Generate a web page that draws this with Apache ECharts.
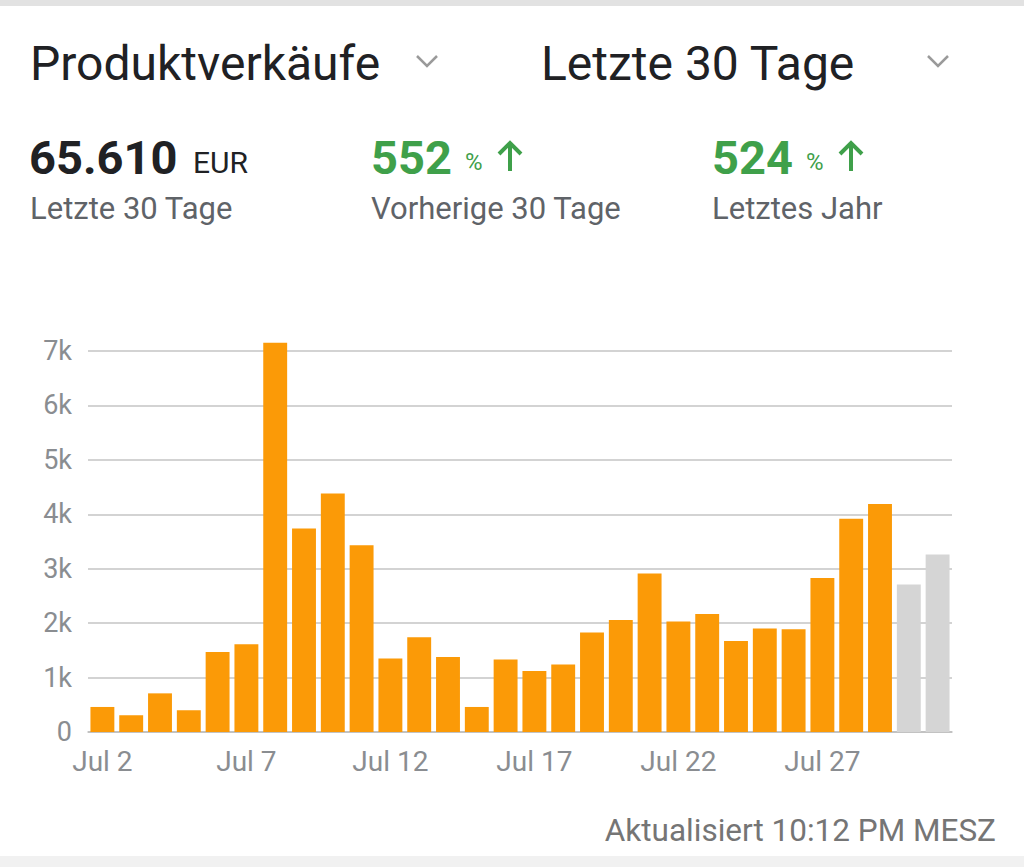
<!DOCTYPE html>
<html lang="de">
<head>
    <meta charset="UTF-8">
    <title>Produktverkäufe</title>
    <script src="https://cdn.jsdelivr.net/npm/echarts@6/dist/echarts.min.js"></script>
    <style>
        html, body { margin: 0; padding: 0; background: #fff; }
        #main { width: 1024px; height: 867px; }
    </style>
</head>
<body>
<div id="main"></div>
<script type="text/javascript">
    // Tage (Kategorien) und Umsatz je Tag in EUR
    var days = ['Jul 2', 'Jul 3', 'Jul 4', 'Jul 5', 'Jul 6', 'Jul 7', 'Jul 8', 'Jul 9', 'Jul 10', 'Jul 11',
        'Jul 12', 'Jul 13', 'Jul 14', 'Jul 15', 'Jul 16', 'Jul 17', 'Jul 18', 'Jul 19', 'Jul 20', 'Jul 21',
        'Jul 22', 'Jul 23', 'Jul 24', 'Jul 25', 'Jul 26', 'Jul 27', 'Jul 28', 'Jul 29', 'Jul 30', 'Jul 31'];
    var sales = [460, 310, 710, 400, 1470, 1610, 7150, 3740, 4380, 3430,
        1350, 1740, 1380, 460, 1330, 1120, 1240, 1830, 2060, 2910,
        2030, 2170, 1670, 1900, 1890, 2830, 3920, 4190, 2710, 3260];
    // die letzten Tage sind noch nicht abgeschlossen (grau)
    var pendingDays = ['Jul 30', 'Jul 31'];
    var yTicks = [0, 1000, 2000, 3000, 4000, 5000, 6000, 7000];

    var orange = '#fb9a07';
    var grey = '#d5d5d5';
    var green = '#3fa04a';
    var font = 'Roboto, "Noto Sans", sans-serif';

    var myChart = echarts.init(document.getElementById('main'), null, {renderer: 'svg'});

    function txt(x, y, text, size, color, weight, align) {
        return {
            type: 'text', x: x, y: y, silent: true,
            style: {
                text: text, fill: color, align: align || 'left', verticalAlign: 'middle',
                font: (weight || 'normal') + ' ' + size + 'px ' + font
            }
        };
    }

    function chevron(x, y) {
        return {
            type: 'polyline', silent: true,
            shape: {points: [[x - 10, y - 5], [x, y + 5], [x + 10, y - 5]]},
            style: {stroke: '#9a9a9a', lineWidth: 2.5, fill: null}
        };
    }

    // dicker Pfeil nach oben wie im Material-Icon
    function arrowUp(x, top) {
        return {
            type: 'group', silent: true,
            children: [
                {type: 'line', shape: {x1: x, y1: top + 3, x2: x, y2: top + 29},
                    style: {stroke: green, lineWidth: 4}},
                {type: 'polyline', shape: {points: [[x - 11, top + 12], [x, top + 1], [x + 11, top + 12]]},
                    style: {stroke: green, lineWidth: 4, fill: null}}
            ]
        };
    }

    myChart.setOption({
        backgroundColor: '#fff',
        animation: false,
        grid: {left: 88, right: 72, top: 351, bottom: 135},
        xAxis: {
            type: 'category',
            data: days,
            axisLine: {lineStyle: {color: '#bdbdbd', width: 1.5}},
            axisTick: {show: false},
            axisLabel: {
                interval: 4, color: '#8a8d91', fontSize: 28, fontFamily: font, margin: 15
            }
        },
        yAxis: {
            type: 'value',
            min: yTicks[0],
            max: yTicks[yTicks.length - 1],
            interval: 1000,
            axisLine: {show: false},
            axisTick: {show: false},
            splitLine: {lineStyle: {color: '#c4c4c4', width: 1.5}},
            axisLabel: {
                color: '#8a8d91', fontSize: 27, fontFamily: font, margin: 16,
                formatter: function (v) { return v === 0 ? '0' : (v / 1000) + 'k'; }
            }
        },
        series: [{
            type: 'bar',
            clip: false,
            barCategoryGap: '17%',
            data: sales.map(function (v, i) {
                return {
                    value: v,
                    itemStyle: {color: pendingDays.indexOf(days[i]) >= 0 ? grey : orange}
                };
            })
        }],
        graphic: [
            {type: 'rect', silent: true, shape: {x: 0, y: 0, width: 1024, height: 6}, style: {fill: '#e2e2e2'}},
            {type: 'rect', silent: true, shape: {x: 0, y: 856, width: 1024, height: 11}, style: {fill: '#f1f1f1'}},

            txt(30, 63, 'Produktverkäufe', 48, '#202124'),
            chevron(427, 61),
            txt(541, 63, 'Letzte 30 Tage', 48, '#202124'),
            chevron(938, 61),

            txt(29, 157, '65.610', 47, '#202124', 'bold'),
            txt(193, 162, 'EUR', 30, '#202124'),
            txt(30, 208, 'Letzte 30 Tage', 31, '#5f6368'),

            txt(371, 157, '552', 47, green, 'bold'),
            txt(465, 162, '%', 24, green),
            arrowUp(510, 142),
            txt(371, 208, 'Vorherige 30 Tage', 31, '#5f6368'),

            txt(712, 157, '524', 47, green, 'bold'),
            txt(806, 162, '%', 24, green),
            arrowUp(851, 142),
            txt(712, 208, 'Letztes Jahr', 31, '#5f6368'),

            txt(996, 830, 'Aktualisiert 10:12 PM MESZ', 31.5, '#757575', 'normal', 'right')
        ]
    });
</script>
</body>
</html>
